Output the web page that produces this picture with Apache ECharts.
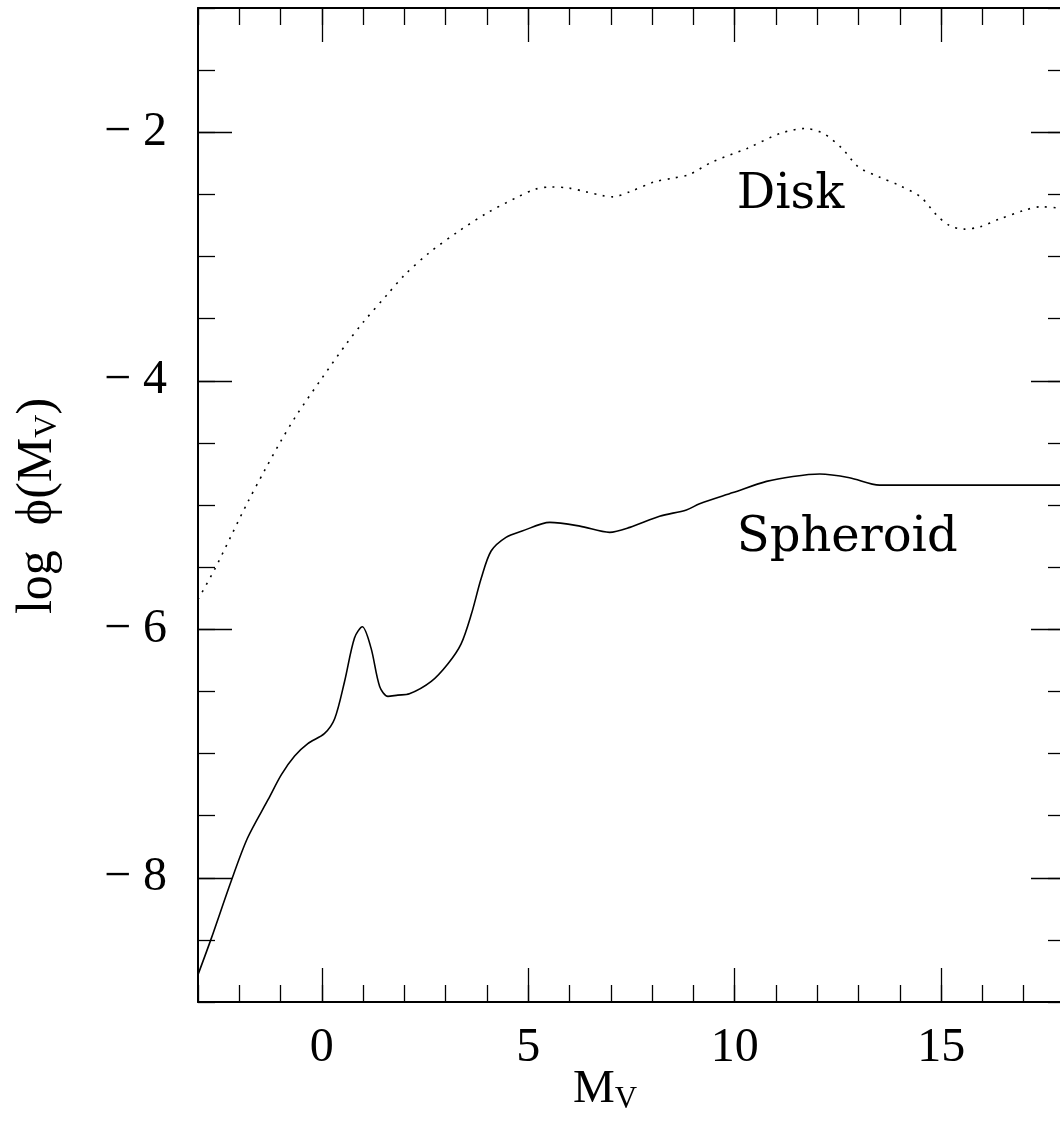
<!DOCTYPE html>
<html>
<head>
<meta charset="utf-8">
<script src="https://cdn.jsdelivr.net/npm/echarts@6/dist/echarts.min.js"></script>
<style>
html, body { margin: 0; padding: 0; background: #fff; }
#chart { width: 1060px; height: 1125px; }
</style>
</head>
<body>
<div id="chart"></div>
<script>
// luminosity functions
var diskMv = [-3, -2.6, -2.2, -1.8, -1.4, -1.0, -0.6, 0, 0.6, 1.0, 1.6, 2.0, 2.6, 3.3, 4.0, 4.75, 5.15, 5.55, 6.0, 6.4, 6.8, 7.05, 7.45, 8.05, 8.5, 8.9, 9.45, 10.3, 11.1, 11.7, 12.15, 12.6, 13.0, 13.5, 14.0, 14.5, 14.9, 15.2, 15.55, 15.95, 16.4, 17.0, 17.4, 17.85, 18];
var diskLogPhi = [-5.76, -5.52, -5.25, -4.98, -4.73, -4.49, -4.27, -3.98, -3.70, -3.53, -3.30, -3.15, -2.97, -2.80, -2.65, -2.52, -2.46, -2.44, -2.45, -2.48, -2.51, -2.52, -2.48, -2.40, -2.37, -2.34, -2.24, -2.13, -2.01, -1.97, -2.01, -2.13, -2.28, -2.36, -2.43, -2.52, -2.67, -2.75, -2.78, -2.76, -2.70, -2.63, -2.60, -2.61, -2.62];

var sphMv = [-3.0, -2.68, -2.2, -1.8, -1.3, -0.98, -0.66, -0.34, 0.06, 0.31, 0.55, 0.79, 0.98, 1.19, 1.40, 1.60, 1.84, 2.12, 2.65, 3.05, 3.37, 3.62, 3.86, 4.10, 4.46, 4.85, 5.52, 6.25, 6.97, 7.46, 8.18, 8.83, 9.15, 9.96, 10.77, 11.41, 12.06, 12.78, 13.51, 18];
var sphLogPhi = [-8.78, -8.49, -8.03, -7.68, -7.37, -7.17, -7.02, -6.92, -6.84, -6.72, -6.42, -6.07, -5.98, -6.15, -6.46, -6.54, -6.53, -6.52, -6.42, -6.28, -6.12, -5.88, -5.59, -5.37, -5.26, -5.21, -5.14, -5.17, -5.22, -5.18, -5.09, -5.04, -4.99, -4.90, -4.81, -4.77, -4.75, -4.78, -4.84, -4.84];

var xMajorTicks = [0, 5, 10, 15];
var yMajorTicks = [-8, -6, -4, -2];

var curveNames = ['Disk', 'Spheroid'];
var nameMv = [10.05, 10.05];
var nameLogPhi = [-2.51, -5.27];

function pairs(xs, ys) {
  return xs.map(function (x, i) { return [x, ys[i]]; });
}

var numFont = 'Liberation Serif';
var txtFont = 'DejaVu Serif';

function fmt(v) {
  return v < 0 ? '\u2212 ' + Math.abs(v) : String(v);
}

// minor ticks: one axis, major ticks + labels: another axis on same side
function xAx(pos, major) {
  return {
    type: 'value', min: -3, max: 18, position: pos,
    interval: major ? undefined : 1,
    axisLine: { show: !major, onZero: false, lineStyle: { color: '#000', width: 2 } },
    axisTick: major
      ? { show: true, inside: true, length: 34, customValues: xMajorTicks, lineStyle: { color: '#000', width: 1.3 } }
      : { show: true, inside: true, length: 17, lineStyle: { color: '#000', width: 1.3 } },
    axisLabel: (major && pos == 'bottom')
      ? { show: true, customValues: xMajorTicks, margin: 22, color: '#000', fontSize: 48, fontFamily: numFont, formatter: fmt }
      : { show: false },
    splitLine: { show: false }
  };
}
function yAx(pos, major) {
  return {
    type: 'value', min: -9, max: -1, position: pos,
    interval: major ? undefined : 0.5,
    axisLine: { show: !major, onZero: false, lineStyle: { color: '#000', width: 2 } },
    axisTick: major
      ? { show: true, inside: true, length: 34, customValues: yMajorTicks, lineStyle: { color: '#000', width: 1.3 } }
      : { show: true, inside: true, length: 17, lineStyle: { color: '#000', width: 1.3 } },
    axisLabel: (major && pos == 'left')
      ? { show: true, customValues: yMajorTicks, margin: 31, color: '#000', fontSize: 48, fontFamily: numFont, formatter: fmt }
      : { show: false },
    splitLine: { show: false }
  };
}

var chart = echarts.init(document.getElementById('chart'));
var option = {
  backgroundColor: '#fff',
  animation: false,
  grid: { left: 198, right: -5, top: 8, bottom: 123, outerBoundsMode: 'none' },
  xAxis: [xAx('bottom', false), xAx('bottom', true), xAx('top', false), xAx('top', true)],
  yAxis: [yAx('left', false), yAx('left', true), yAx('right', false), yAx('right', true)],
  series: [
    {
      name: 'Disk', type: 'line', xAxisIndex: 0, yAxisIndex: 0,
      data: pairs(diskMv, diskLogPhi),
      smooth: 0.3, showSymbol: false,
      lineStyle: { color: '#000', width: 1.6, type: [2, 6.5] }
    },
    {
      name: 'Spheroid', type: 'line', xAxisIndex: 0, yAxisIndex: 0,
      data: pairs(sphMv, sphLogPhi),
      smooth: 0.3, showSymbol: false,
      lineStyle: { color: '#000', width: 1.6 }
    }
  ]
};
chart.setOption(option);

// curve names and axis titles
var graphics = curveNames.map(function (t, i) {
  var p = chart.convertToPixel({ gridIndex: 0 }, [nameMv[i], nameLogPhi[i]]);
  return {
    type: 'text', x: p[0], y: p[1],
    style: { text: t, fill: '#000', font: '48px "' + txtFont + '"', align: 'left', verticalAlign: 'middle' }
  };
});
graphics.push({
  type: 'text', x: 605, y: 1090,
  style: {
    text: '{m|M}{s|V}', align: 'center', verticalAlign: 'middle',
    rich: {
      m: { fontSize: 47, fontFamily: numFont, fill: '#000', lineHeight: 50 },
      s: { fontSize: 31, fontFamily: numFont, fill: '#000', lineHeight: 24, verticalAlign: 'bottom' }
    }
  }
});
graphics.push({
  type: 'text', x: 38, y: 506, rotation: Math.PI / 2,
  style: {
    text: '{m|log  \u03d5(M}{s|V}{m|)}', align: 'center', verticalAlign: 'middle',
    rich: {
      m: { fontSize: 50, fontFamily: numFont, fill: '#000', lineHeight: 52 },
      s: { fontSize: 32, fontFamily: numFont, fill: '#000', lineHeight: 24, verticalAlign: 'bottom' }
    }
  }
});
chart.setOption({ graphic: graphics });
</script>
</body>
</html>
